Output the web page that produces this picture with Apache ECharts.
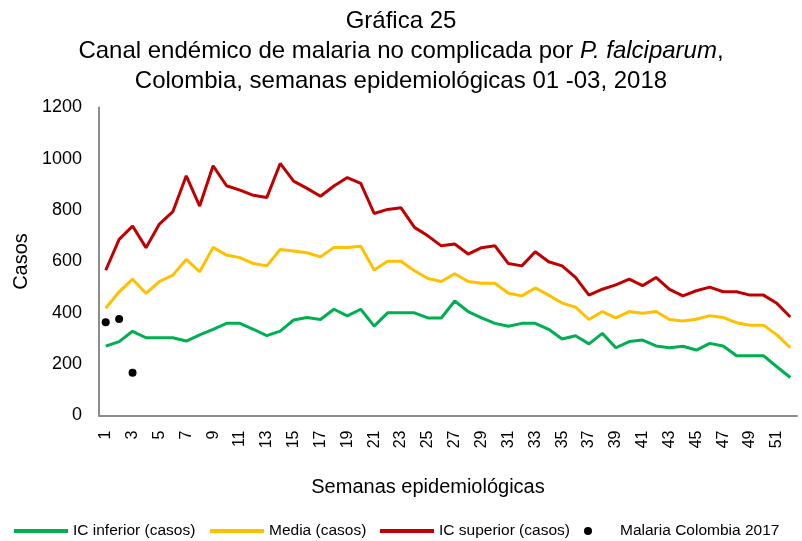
<!DOCTYPE html>
<html>
<head>
<meta charset="utf-8">
<script src="https://cdn.jsdelivr.net/npm/echarts@6/dist/echarts.min.js"></script>
<style>html,body{margin:0;padding:0;background:#fff}#c{width:802px;height:541px}</style>
</head>
<body>
<div id="c"></div>
<script>
const weeks = Array.from({length: 52}, (_, i) => String(i + 1));
const icInferior = [270,288,328,303,303,303,290,314,336,359,359,336,311,329,372,382,374,414,388,414,348,400,400,400,380,380,446,405,380,359,348,359,359,336,298,311,279,320,264,288,294,271,264,270,255,281,271,233,233,233,190,148];
const media = [418,482,531,476,522,547,608,560,655,625,615,592,583,647,641,634,618,655,655,659,567,601,601,564,534,522,552,522,515,515,476,466,497,469,438,422,374,405,380,405,398,405,374,368,375,389,382,361,352,352,314,264];
const icSuperior = [566,686,738,654,746,794,934,816,973,895,878,858,849,982,913,885,854,894,927,904,787,803,809,733,700,661,668,629,654,661,592,583,638,599,583,538,469,492,509,531,506,538,491,466,486,500,482,482,469,469,437,384];
const malaria2017 = [363,376,167];
const yTicks = [0,200,400,600,800,1000,1200];

const font = "'Liberation Sans',Arial,sans-serif";

const chart = echarts.init(document.getElementById('c'), null, {renderer: 'canvas'});
const legendBase = {
  orient: 'horizontal', top: 523, itemGap: 0, padding: 0,
  textStyle: {fontFamily: font, fontSize: 15.5, color: '#000'}
};
chart.setOption({
  animation: false,
  backgroundColor: '#fff',
  title: {
    left: 'center', top: 1,
    text: '{t|Gráfica 25}\n{t|Canal endémico de malaria no complicada por }{i|P. falciparum}{t|,}\n{t|Colombia, semanas epidemiológicas 01 -03, 2018}',
    textStyle: {
      fontWeight: 'normal',
      rich: {
        t: {fontFamily: font, fontSize: 24, lineHeight: 30, color: '#000', fontWeight: 'normal'},
        i: {fontFamily: font, fontSize: 24, lineHeight: 30, color: '#000', fontStyle: 'italic', fontWeight: 'normal'}
      }
    }
  },
  legend: [
    Object.assign({}, legendBase, {left: 14, data: ['IC inferior (casos)'], itemWidth: 54, itemHeight: 4, icon: 'rect'}),
    Object.assign({}, legendBase, {left: 210, data: ['Media (casos)'], itemWidth: 54, itemHeight: 4, icon: 'rect'}),
    Object.assign({}, legendBase, {left: 380, data: ['IC superior (casos)'], itemWidth: 54, itemHeight: 4, icon: 'rect'}),
    Object.assign({}, legendBase, {left: 584, data: ['Malaria Colombia 2017'], itemWidth: 54, itemHeight: 8, icon: 'circle'})
  ],
  grid: {left: 99, right: 5, top: 107.5, bottom: 125.5, containLabel: false},
  xAxis: {
    type: 'category', data: weeks, boundaryGap: true,
    name: 'Semanas epidemiológicas', nameLocation: 'middle', nameGap: 62,
    nameTextStyle: {fontFamily: font, fontSize: 20, color: '#000', padding: [0, 40, 0, 0]},
    axisLine: {lineStyle: {color: '#8c8c8c', width: 2}},
    axisTick: {show: false},
    axisLabel: {interval: 1, rotate: 90, margin: 15, fontFamily: font, fontSize: 16, color: '#000'},
    splitLine: {show: false}
  },
  yAxis: {
    type: 'value', min: 0, max: 1200, interval: 200,
    name: 'Casos', nameLocation: 'middle', nameGap: 64, nameRotate: 90,
    nameTextStyle: {fontFamily: font, fontSize: 20, color: '#000'},
    axisLine: {show: true, lineStyle: {color: '#8c8c8c', width: 2}},
    axisTick: {show: false},
    axisLabel: {margin: 17, fontFamily: font, fontSize: 18, color: '#000',
      formatter: v => yTicks.includes(v) ? String(v) : ''},
    splitLine: {show: false}
  },
  series: [
    {name: 'IC inferior (casos)', type: 'line', data: icInferior, symbol: 'none', lineStyle: {color: '#00B050', width: 3}, itemStyle: {color: '#00B050'}},
    {name: 'Media (casos)', type: 'line', data: media, symbol: 'none', lineStyle: {color: '#FFC000', width: 3}, itemStyle: {color: '#FFC000'}},
    {name: 'IC superior (casos)', type: 'line', data: icSuperior, symbol: 'none', lineStyle: {color: '#C00000', width: 3}, itemStyle: {color: '#C00000'}},
    {name: 'Malaria Colombia 2017', type: 'scatter', data: malaria2017, symbol: 'circle', symbolSize: 8, itemStyle: {color: '#000', opacity: 1}, z: 5}
  ]
});
</script>
</body>
</html>
